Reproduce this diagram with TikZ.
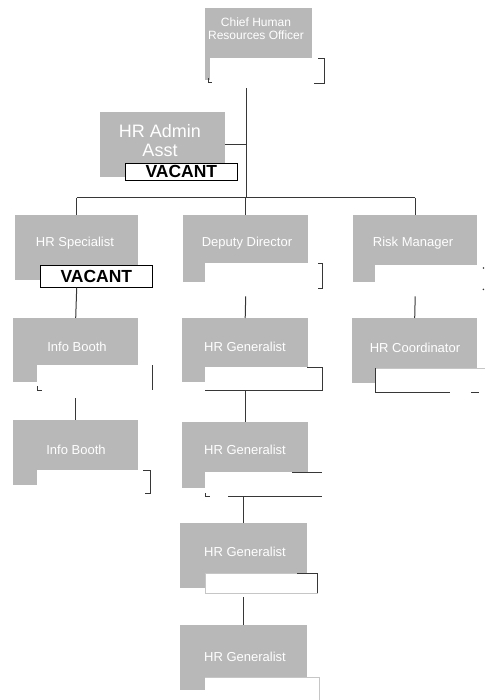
\documentclass[tikz,border=0pt]{standalone}
\usepackage{fontspec}
\setmainfont{Liberation Sans}
\usetikzlibrary{calc}
\definecolor{boxgray}{RGB}{184,184,184}
\definecolor{linegray}{RGB}{55,55,55}
\begin{document}
\begin{tikzpicture}[x=1pt,y=-1pt,
  post/.style={fill=boxgray, draw=none, anchor=north west, inner sep=0pt},
  namebox/.style={fill=white, draw=none, anchor=north west, inner sep=0pt},
  vacbox/.style={namebox, draw=black, line width=0.7pt},
  title/.style={text=white, font=\fontsize{13}{15}\selectfont, inner sep=0pt, align=center},
  vacant/.style={font=\bfseries\fontsize{17.5}{18}\selectfont, inner sep=0pt},
  link/.style={draw=linegray, line width=1pt},
  rim/.style={draw=linegray, line width=0.8pt},
  faintrim/.style={draw=gray!45, line width=0.6pt}]
\useasboundingbox (0,0) rectangle (485,700);

% ---- position boxes (grey) ----
\node[post, minimum width=107pt, minimum height=72pt] (chief) at (205,8) {};
\node[post, minimum width=125pt, minimum height=65pt] (admin) at (100,112) {};
\node[post, minimum width=123pt, minimum height=65pt] (spec)  at (15,215) {};
\node[post, minimum width=125pt, minimum height=67pt] (dep)   at (183,215) {};
\node[post, minimum width=124pt, minimum height=67pt] (risk)  at (353,215) {};
\node[post, minimum width=125pt, minimum height=64pt] (info1) at (13,318) {};
\node[post, minimum width=125pt, minimum height=65pt] (info2) at (13,420) {};
\node[post, minimum width=126pt, minimum height=64pt] (gen1)  at (182,318) {};
\node[post, minimum width=126pt, minimum height=66pt] (gen2)  at (182,422) {};
\node[post, minimum width=125pt, minimum height=65pt] (coord) at (352,318) {};
\node[post, minimum width=127pt, minimum height=65pt] (gen3)  at (180,523) {};
\node[post, minimum width=127pt, minimum height=65pt] (gen4)  at (180,625) {};

% ---- titles ----
\node[title, font=\fontsize{12}{13}\selectfont] (chief-t) at (256,28.5) {Chief Human\\Resources Officer};
\node[title, font=\fontsize{18}{19}\selectfont] (admin-t) at (160,141) {HR Admin\\Asst};
\node[title] (spec-t)  at (75,243)  {HR Specialist};
\node[title] (dep-t)   at (247,243) {Deputy Director};
\node[title] (risk-t)  at (413,243) {Risk Manager};
\node[title] (info1-t) at (77,347)  {Info Booth};
\node[title] (info2-t) at (76,450)  {Info Booth};
\node[title] (gen1-t)  at (245,347) {HR Generalist};
\node[title] (gen2-t)  at (245,450) {HR Generalist};
\node[title] (coord-t) at (415,348) {HR Coordinator};
\node[title] (gen3-t)  at (245,552) {HR Generalist};
\node[title] (gen4-t)  at (245,657) {HR Generalist};

% ---- name boxes ----
\node[namebox, minimum width=114pt, minimum height=25pt] (cn)  at (210,58) {};
\node[vacbox,  minimum width=112pt, minimum height=17pt] (an)  at (125,163) {};
\node[vacbox,  minimum width=112pt, minimum height=22pt] (sn)  at (40,265) {};
\node[namebox, minimum width=117pt, minimum height=25pt] (dn)  at (205,263) {};
\node[namebox, minimum width=110pt, minimum height=25pt] (rn)  at (375,265) {};
\node[namebox, minimum width=115pt, minimum height=25pt] (i1n) at (37,365) {};
\node[namebox, minimum width=113pt, minimum height=23pt] (i2n) at (37,470) {};
\node[namebox, minimum width=117pt, minimum height=23pt] (g1n) at (205,367) {};
\node[namebox, minimum width=117pt, minimum height=24pt] (g2n) at (205,472) {};
\node[namebox, minimum width=110pt, minimum height=24pt] (cdn) at (375,368) {};
\node[namebox, minimum width=112pt, minimum height=20pt] (g3n) at (205,573) {};
\node[namebox, minimum width=114pt, minimum height=23pt] (g4n) at (205,677) {};

\node[vacant] (an-t) at (an.center) {VACANT};
\node[vacant] (sn-t) at (sn.center) {VACANT};

% ---- visible edges of the name boxes ----
\draw[rim] ([xshift=-6pt]cn.north east) -- (cn.north east) -- (cn.south east) -- ([xshift=-10pt]cn.south east);
\draw[rim] ([xshift=-2pt,yshift=5pt]cn.south west) -- ([xshift=-2pt,yshift=1pt]cn.south west) -- ([xshift=2pt,yshift=1pt]cn.south west);
\draw[rim] ([xshift=-4pt]dn.north east) -- (dn.north east) -- (dn.south east) -- ([xshift=-4pt]dn.south east);
\fill[linegray] ([xshift=-2pt,yshift=-3pt]rn.north east) circle (0.9pt);
\fill[linegray] ([xshift=-2pt,yshift=1pt]rn.south east) circle (0.9pt);
\draw[rim] (i1n.north east) -- (i1n.south east);
\draw[rim] ([yshift=4pt]i1n.south west) -- (i1n.south west) -- ([xshift=5pt]i1n.south west);
\draw[rim] ([xshift=-7pt]i2n.north east) -- (i2n.north east) -- (i2n.south east) -- ([xshift=-5pt]i2n.south east);
\draw[rim] ([xshift=-15pt]g1n.north east) -- (g1n.north east) -- (g1n.south east) -- (g1n.south west);
\draw[rim] ([xshift=-30pt]g2n.north east) -- (g2n.north east);
\draw[rim] ([xshift=23pt]g2n.south west) -- (g2n.south east);
\draw[rim] ([yshift=3pt]g2n.south west) -- (g2n.south west) -- ([xshift=5pt]g2n.south west);
\draw[faintrim] (cdn.north west) -- (cdn.north east);
\draw[rim] (cdn.north west) -- (cdn.south west) -- ([xshift=75pt]cdn.south west);
\draw[rim] ([xshift=-14pt]cdn.south east) -- ([xshift=-6pt]cdn.south east);
\draw[faintrim] (g3n.north west) rectangle (g3n.south east);
\draw[rim] ([xshift=-20pt]g3n.north east) -- (g3n.north east) -- (g3n.south east);
\draw[faintrim] (g4n.north west) -- (g4n.north east) -- (g4n.south east);
\draw[rim] ([xshift=50pt]g4n.south west) -- ([xshift=95pt]g4n.south west);

% ---- reporting lines ----
\coordinate (bus) at (246,198);
\draw[link] ([yshift=-5pt]cn.south -| bus) -- (bus);
\draw[link] (admin.east) -- (admin.east -| bus);
\draw[link] (spec.north |- bus) -- (risk.north |- bus);
\foreach \n in {spec,dep,risk} \draw[link] (\n.north |- bus) -- (\n.north);
\draw[link] (sn.south -| spec.north) -- (info1.north);
\draw[link] ([yshift=-8pt]i1n.south -| info1.north) -- (info2.north);
\draw[link] ([yshift=-8pt]dn.south -| dep.north) -- (gen1.north);
\draw[link] ([yshift=-6pt]rn.south -| risk.north) -- (coord.north);
\draw[link] (g1n.south -| gen1.north) -- (gen2.north);
\draw[link] (g2n.south -| gen3.north) -- (gen3.north);
\draw[link] ([yshift=-4pt]g3n.south -| gen3.north) -- (gen4.north);
\end{tikzpicture}
\end{document}
